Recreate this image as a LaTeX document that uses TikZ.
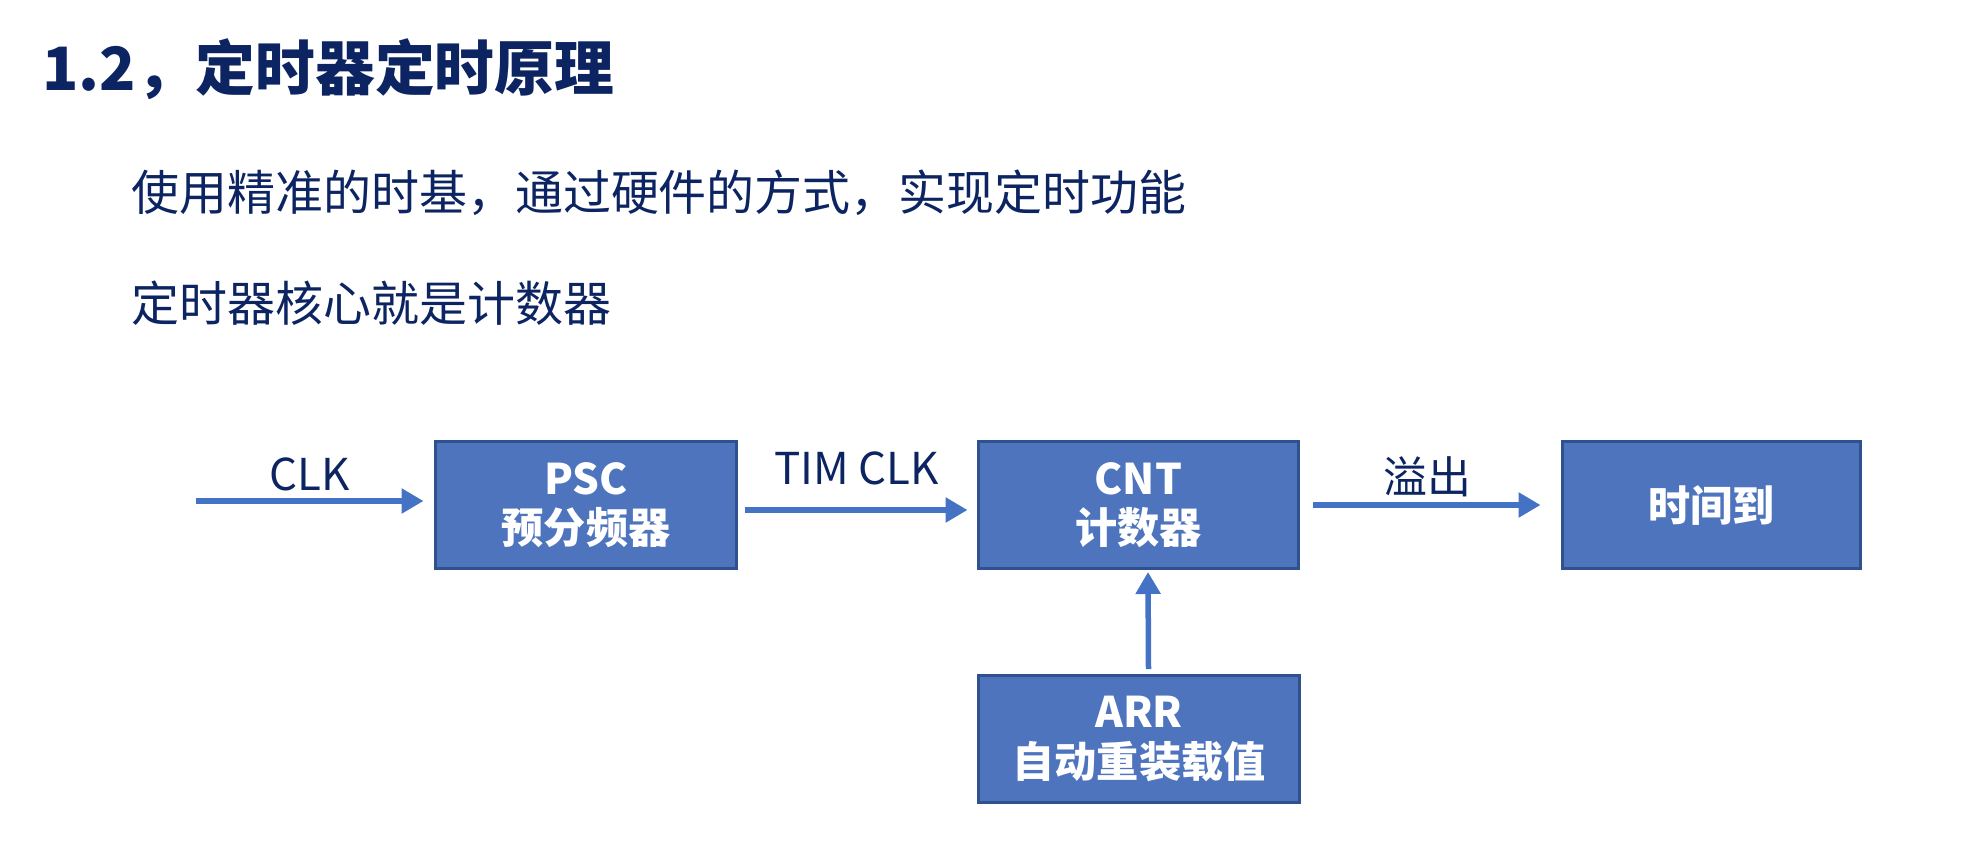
\documentclass[tikz,border=0pt]{standalone}
\usepackage{fontspec}
\setmainfont{Noto Sans CJK SC}
\usetikzlibrary{arrows.meta,calc}
\definecolor{navy}{HTML}{0C2461}
\definecolor{boxblue}{HTML}{4E74BE}
\definecolor{boxline}{HTML}{2F528F}
\definecolor{arrowblue}{HTML}{4472C4}
\tikzset{
  block/.style={draw=boxline, line width=0.06cm, fill=boxblue, text=white,
    font=\bfseries\fontsize{24}{28}\selectfont, align=center, inner sep=0pt,
    minimum height=2.54cm},
  flow/.style={draw=arrowblue, line width=0.11cm,
    -{Triangle[length=0.44cm,width=0.48cm]}},
  lbl/.style={text=navy, font=\fontsize{25}{30}\selectfont, inner sep=0pt},
  para/.style={text=navy, anchor=west, inner sep=0pt, font=\fontsize{27.3}{32}\selectfont}
}
\begin{document}
\begin{tikzpicture}[x=0.02cm,y=-0.02cm]
\useasboundingbox (0,0) rectangle (1978,848);
% heading and text
\node[para, font=\bfseries\fontsize{34}{40}\selectfont] (title) at (42,69) {1.2，定时器定时原理};
\node[para] (line1) at (131,193) {使用精准的时基，通过硬件的方式，实现定时功能};
\node[para] (line2) at (131,303) {定时器核心就是计数器};
% blocks
\node[block, minimum width=6.04cm] (psc) at (586,505) {PSC\\预分频器};
\node[block, minimum width=6.42cm] (cnt) at (1138.5,505) {CNT\\计数器};
\node[block, minimum width=5.98cm] (tim) at (1711.5,505) {时间到};
\node[block, minimum width=6.44cm] (arr) at (1139,739) {ARR\\自动重装载值};
% connections
\coordinate (clkin) at (196,501);
\draw[flow] (clkin) -- ($(psc.west)+(-10,-4)$) node[lbl, midway, above=0.15cm] {CLK};
\draw[flow] ($(psc.east)+(7,5)$) -- ($(cnt.west)+(-9,5)$) node[lbl, midway, above=0.45cm] {TIM CLK};
\draw[flow] ($(cnt.east)+(13,0)$) -- ($(tim.west)+(-20,0)$) node[lbl, midway, above=0.1cm] {溢出};
\draw[flow] ($(arr.north)+(9.5,-5)$) -- ($(cnt.south)+(9.5,2)$);
\end{tikzpicture}
\end{document}
